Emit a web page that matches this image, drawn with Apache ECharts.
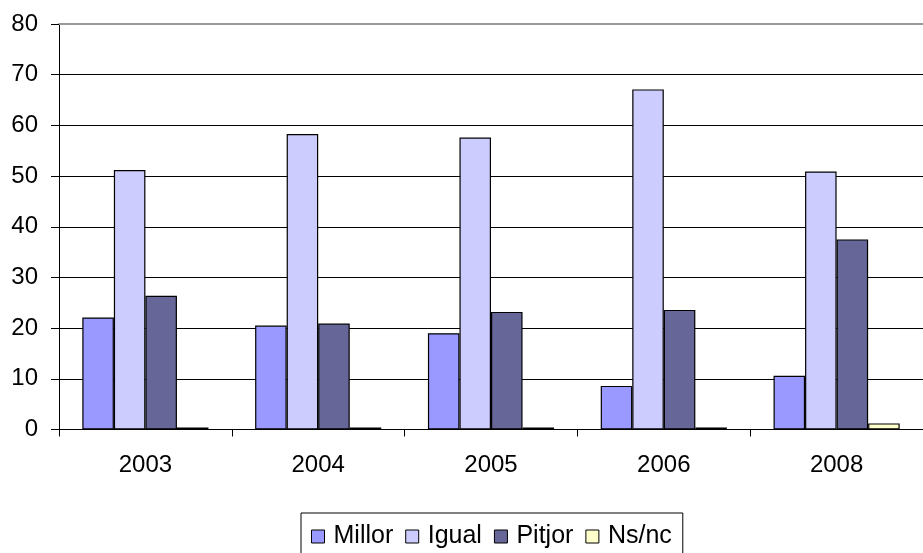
<!DOCTYPE html>
<html>
<head>
<meta charset="utf-8">
<script src="https://cdn.jsdelivr.net/npm/echarts@6/dist/echarts.min.js"></script>
<style>
  html, body { margin: 0; padding: 0; background: #fff; }
  #chart { width: 923px; height: 553px; }
</style>
</head>
<body>
<div id="chart"></div>
<script>
// dades llegides del gràfic
const years = ['2003', '2004', '2005', '2006', '2008']
const millor = [22.1, 20.5, 19.0, 8.6, 10.6]
const igual = [51.2, 58.3, 57.6, 67.1, 50.9]
const pitjor = [26.4, 20.9, 23.2, 23.6, 37.5]
const nsnc = [0.4, 0.4, 0.4, 0.4, 1.2]

const seriesNames = ['Millor', 'Igual', 'Pitjor', 'Ns/nc']
const seriesColors = ['#9999FF', '#CCCCFF', '#666699', '#FFFFCC']
const seriesData = [millor, igual, pitjor, nsnc]

const font = 'Liberation Sans, Arial, sans-serif'

let myChart = echarts.init(document.getElementById('chart'))

const options = {
  animation: false,
  textStyle: { fontFamily: font },
  grid: { left: 59, top: 24, right: -10, bottom: 123.5 },
  legend: {
    left: 301, top: 513,
    itemWidth: 13, itemHeight: 13, itemGap: 12,
    padding: [11, 11, 20, 10],
    borderColor: '#000', borderWidth: 1,
    icon: 'rect',
    itemStyle: { borderColor: '#000', borderWidth: 1 },
    textStyle: { fontSize: 25, color: '#000', fontFamily: font, padding: [0, 0, 0, 4] },
    data: seriesNames
  },
  xAxis: [{
    type: 'category',
    data: years,
    axisLine: { lineStyle: { color: '#000', width: 1 } },
    axisTick: { show: true, length: 7, lineStyle: { color: '#000' } },
    axisLabel: { fontSize: 24, color: '#000', margin: 24, fontFamily: font }
  }, {
    // vora superior grisa de l'àrea del gràfic
    type: 'category',
    position: 'top',
    data: years,
    axisLine: { show: true, lineStyle: { color: '#999', width: 2 } },
    axisTick: { show: false },
    axisLabel: { show: false }
  }],
  yAxis: {
    type: 'value',
    min: 0, max: 80, interval: 10,
    axisLine: { show: true, lineStyle: { color: '#000', width: 1 } },
    axisTick: { show: true, length: 8, lineStyle: { color: '#000' } },
    axisLabel: { fontSize: 24, color: '#000', margin: 21, fontFamily: font },
    splitLine: { show: true, lineStyle: { color: '#000', width: 1 } }
  },
  series: seriesNames.map((name, i) => ({
    name: name,
    type: 'bar',
    data: seriesData[i],
    barGap: '0%',
    barCategoryGap: '27%',
    itemStyle: { color: seriesColors[i], borderColor: '#000', borderWidth: 1.2 }
  }))
}

myChart.setOption(options)
</script>
</body>
</html>
